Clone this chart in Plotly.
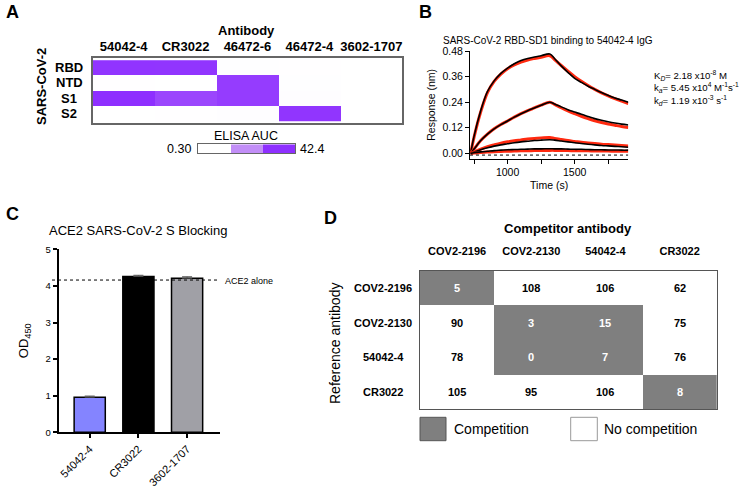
import plotly.graph_objects as go

W, H = 743, 491
FONT = "Arial, Liberation Sans, Helvetica, sans-serif"


def px(x):
    return x / W


def py(y):
    return 1 - y / H


# ---------------- Panel A data: ELISA AUC heatmap ----------------
elisa_antibodies = ["54042-4", "CR3022", "46472-6", "46472-4", "3602-1707"]
elisa_antigens = ["RBD", "NTD", "S1", "S2"]
elisa_auc = [
    [41.2, 41.0, 0.5, 0.4, 0.3],
    [0.4, 0.3, 39.5, 0.5, 0.3],
    [42.4, 37.3, 39.5, 0.6, 0.3],
    [0.3, 0.4, 0.6, 41.0, 0.3],
]
elisa_scale_bins = [0.30, 21.35, 42.4]
elisa_scale_labels = ["0.30", "42.4"]

# ---------------- Panel B data: BLI sensorgrams ----------------
bli_time = [725, 750, 800, 850, 900, 950, 1000, 1050, 1100, 1150, 1200, 1250, 1315,
            1350, 1400, 1450, 1500, 1550, 1600, 1650, 1700, 1750, 1800, 1850, 1900]
bli_black_1 = [0.0, 0.08, 0.20, 0.29, 0.34, 0.375, 0.40, 0.42, 0.435, 0.445, 0.452, 0.458, 0.466,
               0.445, 0.41, 0.38, 0.352, 0.333, 0.315, 0.30, 0.285, 0.272, 0.26, 0.25, 0.24]
bli_red_1 = [0.0, 0.075, 0.195, 0.285, 0.338, 0.372, 0.397, 0.415, 0.428, 0.438, 0.445, 0.451, 0.458,
             0.44, 0.412, 0.385, 0.36, 0.338, 0.318, 0.30, 0.284, 0.27, 0.257, 0.245, 0.234]
bli_black_2 = [0.0, 0.02, 0.06, 0.09, 0.115, 0.135, 0.152, 0.17, 0.186, 0.20, 0.213, 0.226, 0.24,
               0.232, 0.218, 0.205, 0.194, 0.183, 0.173, 0.163, 0.155, 0.148, 0.142, 0.137, 0.133]
bli_red_2 = [0.0, 0.02, 0.06, 0.09, 0.115, 0.135, 0.152, 0.17, 0.186, 0.20, 0.213, 0.226, 0.24,
             0.23, 0.214, 0.199, 0.186, 0.174, 0.163, 0.153, 0.145, 0.138, 0.132, 0.126, 0.121]
bli_black_3 = [0.0, 0.006, 0.017, 0.026, 0.034, 0.04, 0.045, 0.05, 0.054, 0.057, 0.06, 0.062, 0.064,
               0.062, 0.058, 0.054, 0.05, 0.046, 0.043, 0.04, 0.037, 0.035, 0.033, 0.031, 0.029]
bli_red_3 = [0.0, 0.007, 0.02, 0.031, 0.04, 0.048, 0.054, 0.059, 0.063, 0.067, 0.07, 0.072, 0.074,
             0.07, 0.065, 0.06, 0.056, 0.052, 0.049, 0.046, 0.043, 0.041, 0.039, 0.037, 0.035]
bli_black_4 = [0.0, 0.003, 0.007, 0.01, 0.013, 0.015, 0.017, 0.018, 0.019, 0.02, 0.021, 0.021, 0.022,
               0.021, 0.021, 0.02, 0.019, 0.019, 0.018, 0.017, 0.017, 0.016, 0.016, 0.015, 0.015]
bli_red_4 = [0.0, 0.002, 0.004, 0.006, 0.008, 0.009, 0.01, 0.011, 0.012, 0.012, 0.013, 0.013, 0.014,
             0.014, 0.013, 0.013, 0.012, 0.012, 0.012, 0.011, 0.011, 0.011, 0.01, 0.01, 0.01]
bli_baseline = -0.008
bli_yticks = [0.0, 0.12, 0.24, 0.36, 0.48]
bli_xticks = [1000, 1500]
bli_xminor_step = 250
bli_kinetics = [
    "K<sub><i>D</i></sub>= 2.18 x10<sup>-8</sup> M",
    "k<sub><i>a</i></sub>= 5.45 x10<sup>4</sup> M<sup>-1</sup>s<sup>-1</sup>",
    "k<sub><i>d</i></sub>= 1.19 x10<sup>-3</sup> s<sup>-1</sup>",
]

# ---------------- Panel C data: ACE2 blocking ----------------
blocking_antibodies = ["54042-4", "CR3022", "3602-1707"]
blocking_od450 = [0.96, 4.26, 4.21]
blocking_err = [0.03, 0.03, 0.04]
blocking_colors = ["#8484FF", "#000000", "#A0A0A6"]
ace2_alone = 4.16

# ---------------- Panel D data: competition binning ----------------
competitor_abs = ["COV2-2196", "COV2-2130", "54042-4", "CR3022"]
reference_abs = ["COV2-2196", "COV2-2130", "54042-4", "CR3022"]
competition_pct = [
    [5, 108, 106, 62],
    [90, 3, 15, 75],
    [78, 0, 7, 76],
    [105, 95, 106, 8],
]
competes = [
    [1, 0, 0, 0],
    [0, 1, 1, 0],
    [0, 1, 1, 0],
    [0, 0, 0, 1],
]

PURPLE_SCALE = [[0.0, "#FFFFFF"], [0.5, "#C28EF7"], [1.0, "#8E2FFF"]]

fig = go.Figure()

# Panel A heatmap
fig.add_trace(go.Heatmap(
    z=elisa_auc, x=elisa_antibodies, y=elisa_antigens,
    colorscale=PURPLE_SCALE, zmin=elisa_scale_bins[0], zmax=elisa_scale_bins[-1],
    showscale=False, xaxis="x", yaxis="y", hoverinfo="skip"))
# Panel A colour key
fig.add_trace(go.Heatmap(
    z=[elisa_scale_bins], x=[0, 1, 2], y=[0],
    colorscale=PURPLE_SCALE, zmin=elisa_scale_bins[0], zmax=elisa_scale_bins[-1],
    showscale=False, xaxis="x2", yaxis="y2", hoverinfo="skip"))

# Panel B curves
for red, black in [(bli_red_1, bli_black_1), (bli_red_2, bli_black_2),
                   (bli_red_3, bli_black_3), (bli_red_4, bli_black_4)]:
    fig.add_trace(go.Scatter(x=bli_time, y=red, mode="lines",
                             line=dict(color="#FF2A10", width=3, shape="spline"),
                             xaxis="x3", yaxis="y3", showlegend=False))
    fig.add_trace(go.Scatter(x=bli_time, y=black, mode="lines",
                             line=dict(color="#000000", width=1.6, shape="spline"),
                             xaxis="x3", yaxis="y3", showlegend=False))

# Panel C bars
fig.add_trace(go.Bar(
    x=blocking_antibodies, y=blocking_od450, width=0.64,
    marker=dict(color=blocking_colors, line=dict(color="#000000", width=1.5)),
    error_y=dict(type="data", symmetric=False, array=blocking_err,
                 arrayminus=[0] * len(blocking_err), color="#555555",
                 thickness=1, width=5),
    xaxis="x4", yaxis="y4", showlegend=False))

# Panel D heatmap
fig.add_trace(go.Heatmap(
    z=competes, x=competitor_abs, y=reference_abs,
    colorscale=[[0, "#FFFFFF"], [1, "#7F7F7F"]], zmin=0, zmax=1,
    showscale=False, xaxis="x5", yaxis="y5", hoverinfo="skip"))

axis_off = dict(showgrid=False, zeroline=False)

fig.update_layout(
    width=W, height=H, margin=dict(l=0, r=0, t=0, b=0),
    paper_bgcolor="white", plot_bgcolor="white", template="none",
    font=dict(family=FONT, color="#000000", size=11), showlegend=False,
    # Panel A
    xaxis=dict(domain=[px(92.7), px(402.3)], type="category", side="top",
               tickfont=dict(size=13, weight="bold"), ticks="",
               showline=True, mirror=True, linecolor="#666666", linewidth=1.5,
               anchor="y", **axis_off),
    yaxis=dict(domain=[py(122.7), py(58.3)], type="category", autorange="reversed",
               showticklabels=False, ticks="",
               showline=True, mirror=True, linecolor="#666666", linewidth=1.5,
               anchor="x", **axis_off),
    xaxis2=dict(domain=[px(198.3), px(295)], showticklabels=False, ticks="",
                showline=True, mirror=True, linecolor="#666666", linewidth=1,
                anchor="y2", range=[-0.5, 2.5], **axis_off),
    yaxis2=dict(domain=[py(153), py(144.3)], showticklabels=False, ticks="",
                showline=True, mirror=True, linecolor="#666666", linewidth=1,
                anchor="x2", range=[-0.5, 0.5], **axis_off),
    # Panel B
    xaxis3=dict(domain=[px(470), px(628.3)], range=[720, 1900],
                tickmode="array", tickvals=bli_xticks,
                ticks="outside", ticklen=4, tickcolor="#000", tickfont=dict(size=10.5),
                minor=dict(ticks="outside", ticklen=4, tickcolor="#000",
                           tickmode="linear", tick0=0, dtick=bli_xminor_step, showgrid=False),
                showline=True, linecolor="#000", linewidth=1,
                title=dict(text="Time (s)", font=dict(size=10.5), standoff=4),
                anchor="y3", **axis_off),
    yaxis3=dict(domain=[py(158.7), py(51)], range=[-0.025, 0.48],
                tickvals=bli_yticks, tickformat=".2f",
                ticks="outside", ticklen=4, tickcolor="#000", tickfont=dict(size=10.5),
                showline=True, linecolor="#000", linewidth=1,
                title=dict(text="Response (nm)", font=dict(size=10.5), standoff=4),
                anchor="x3", **axis_off),
    # Panel C
    xaxis4=dict(domain=[px(58.7), px(220)], type="category", range=[-0.637, 2.676],
                tickangle=-45, ticks="outside", ticklen=4, tickwidth=1.5, tickcolor="#000",
                tickfont=dict(size=11), showline=True, linecolor="#000", linewidth=2,
                anchor="y4", **axis_off),
    yaxis4=dict(domain=[py(432.3), py(249.3)], range=[0, 5], dtick=1,
                ticks="outside", ticklen=4, tickwidth=1.5, tickcolor="#000",
                tickfont=dict(size=9.5), showline=True, linecolor="#000", linewidth=2,
                title=dict(text="OD<sub>450</sub>", font=dict(size=13), standoff=14),
                anchor="x4", **axis_off),
    # Panel D
    xaxis5=dict(domain=[px(420), px(716.7)], type="category", side="top",
                tickfont=dict(size=11, weight="bold"), ticks="", ticklabelstandoff=10,
                showline=True, mirror=True, linecolor="#555555", linewidth=1,
                anchor="y5", **axis_off),
    yaxis5=dict(domain=[py(409.3), py(270.7)], type="category", autorange="reversed",
                showticklabels=False, ticks="",
                showline=True, mirror=True, linecolor="#555555", linewidth=1,
                anchor="x5", **axis_off),
)

shapes = [
    dict(type="line", xref="x3", yref="y3", x0=720, x1=1900, y0=bli_baseline, y1=bli_baseline,
         line=dict(color="#000", width=1, dash="dot")),
    dict(type="line", xref="paper", yref="y4", x0=px(52), x1=px(220), y0=ace2_alone, y1=ace2_alone,
         line=dict(color="#000", width=1, dash="dot")),
    dict(type="rect", xref="paper", yref="paper", x0=px(420), x1=px(446), y0=py(440.7), y1=py(417.3),
         fillcolor="#7F7F7F", line=dict(color="#555555", width=1)),
    dict(type="rect", xref="paper", yref="paper", x0=px(570.7), x1=px(597.3), y0=py(440.7), y1=py(417.3),
         fillcolor="#FFFFFF", line=dict(color="#999999", width=1)),
]

ann = []


def add_text(text, x, y, size, bold=False, xanchor="center", yanchor="middle", angle=0,
             xref="paper", yref="paper", color="#000"):
    ann.append(dict(text=text, x=x, y=y, xref=xref, yref=yref, showarrow=False,
                    xanchor=xanchor, yanchor=yanchor, textangle=angle,
                    font=dict(size=size, family=FONT, color=color, weight="bold" if bold else "normal")))


# panel letters
add_text("A", px(12), py(12), 18, bold=True)
add_text("B", px(426), py(12), 18, bold=True)
add_text("C", px(13), py(214), 18, bold=True)
add_text("D", px(330), py(218), 18, bold=True)

# Panel A texts
add_text("Antibody", px(246.5), py(30.5), 13, bold=True)
add_text("SARS-CoV-2", px(41), py(87), 13, bold=True, angle=-90)
for i, ag in enumerate(elisa_antigens):
    add_text(ag, px(69), i, 13, bold=True, yref="y")
add_text("ELISA AUC", px(245.5), py(136.5), 12.5)
add_text(elisa_scale_labels[0], px(193), py(149), 12.5, xanchor="right")
add_text(elisa_scale_labels[1], px(298), py(149), 12.5, xanchor="left")

# Panel B texts
add_text("SARS-CoV-2 RBD-SD1 binding to 54042-4 IgG", px(547.5), py(40.5), 10)
for k, line in enumerate(bli_kinetics):
    add_text(line, px(652), py(75.5 + 12.5 * k), 9.6, xanchor="left")

# Panel C texts
add_text("ACE2 SARS-CoV-2 S Blocking", px(138), py(230.5), 13)
add_text("ACE2 alone", px(222.5), py(280.5), 9, xanchor="left")

# Panel D texts
add_text("Competitor antibody", px(568), py(228), 13, bold=True)
add_text("Reference antibody", px(335), py(344), 14, angle=-90)
for i, ref in enumerate(reference_abs):
    add_text(ref, px(383), i, 11, bold=True, yref="y5")
    for j in range(len(competitor_abs)):
        add_text(str(competition_pct[i][j]), j, i, 11, bold=True, xref="x5", yref="y5",
                 color="#FFFFFF" if competes[i][j] else "#000000")
add_text("Competition", px(451.5), py(429), 14, xanchor="left")
add_text("No competition", px(601.5), py(429), 14, xanchor="left")

fig.update_layout(shapes=shapes, annotations=ann)

fig.write_html("out.html", config={"displayModeBar": False},
               post_script="document.body.style.margin='0';document.body.style.padding='0';")
